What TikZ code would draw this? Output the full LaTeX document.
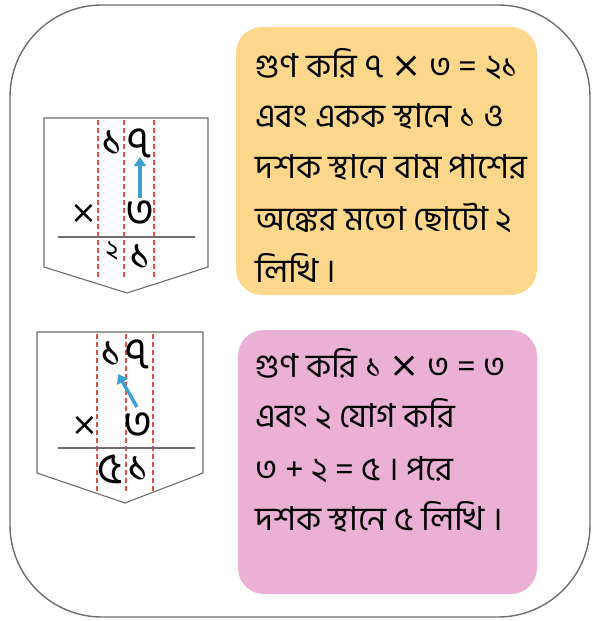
\documentclass[tikz,border=0pt]{standalone}
\usepackage{fontspec}
\newfontfamily\bn[Script=Bengali]{Hind Siliguri}
\newfontfamily\bnw[Script=Bengali,FakeStretch=1.02]{Hind Siliguri}
\newfontfamily\symfont{DejaVu Sans}
\newcommand{\tms}{{\symfont\fontsize{36}{36}\selectfont ×}}
\usetikzlibrary{arrows.meta}
\definecolor{boxyellow}{RGB}{253,216,140}
\definecolor{boxpink}{RGB}{234,176,214}
\definecolor{framegray}{RGB}{110,110,110}
\definecolor{guidered}{RGB}{232,80,70}
\definecolor{arrowblue}{RGB}{60,160,215}
\tikzset{
  outer/.style={draw=framegray, line width=1.4pt, rounded corners=92pt},
  card/.style={rounded corners=26pt},
  penta/.style={draw=framegray, line width=1.1pt, fill=white},
  rule/.style={draw=framegray, line width=1.1pt},
  guide/.style={draw=guidered, line width=1.6pt, dash pattern=on 5pt off 3pt},
  digit/.style={font=\bn\fontsize{44}{44}\selectfont, inner sep=0pt},
  xsign/.style={font=\symfont\fontsize{32}{32}\selectfont, inner sep=0pt},
  small digit/.style={font=\bn\fontsize{26}{26}\selectfont, inner sep=0pt},
  txt/.style={font=\bnw\fontsize{33}{40}\selectfont, anchor=base west, inner sep=0pt},
  mover/.style={draw=arrowblue, line width=3.4pt, -{Triangle[length=9pt,width=12pt]}},
}
\begin{document}
\begin{tikzpicture}[x=1pt,y=-1pt]
\useasboundingbox (0,0) rectangle (592,621);
\draw[outer] (10,5) rectangle (590,617);
% cards
\fill[boxyellow, card] (236,27) rectangle (537,295);
\fill[boxpink, card] (238,330) rectangle (537,594);
% first pentagon
\draw[penta] (44,118) -- (208,118) -- (208,267) -- (127,293) -- (44,267) -- cycle;
\draw[guide] (98,120) -- (98,278);
\draw[guide] (124,120) -- (124,278);
\draw[guide] (154,120) -- (154,278);
\draw[rule] (58,237) -- (195,237);
\node[digit] (p1a) at (112,143) {১};
\node[digit] (p1b) at (140,143) {৭};
\node[xsign] (p1x) at (84,214) {×};
\node[digit] (p1c) at (140,214) {৩};
\node[small digit] (p1s) at (112,251) {২};
\node[digit] (p1d) at (140,257) {১};
\coordinate (p1from) at (140,198);
\coordinate (p1to) at (140,157);
\draw[mover] (p1from) -- (p1to);
% second pentagon
\draw[penta] (37,332) -- (203,332) -- (203,473) -- (125,503) -- (37,473) -- cycle;
\draw[guide] (97,334) -- (97,492);
\draw[guide] (126,334) -- (126,492);
\draw[guide] (153,334) -- (153,492);
\draw[rule] (58,448) -- (195,448);
\node[digit] (p2a) at (111,354) {১};
\node[digit] (p2b) at (138,354) {৭};
\node[xsign] (p2x) at (85,426) {×};
\node[digit] (p2c) at (138,426) {৩};
\node[digit] (p2e) at (110,469) {৫};
\node[digit] (p2d) at (138,469) {১};
\coordinate (p2from) at (137,407);
\coordinate (p2to) at (118,374);
\draw[mover] (p2from) -- (p2to);
% yellow text
\node[txt] (y1) at (255,77) {গুণ করি ৭ \tms{} ৩ = ২১};
\node[txt] (y2) at (255,127) {এবং একক স্থানে ১ ও};
\node[txt] (y3) at (255,178) {দশক স্থানে বাম পাশের};
\node[txt] (y4) at (255,230) {অঙ্কের মতো ছোটো ২};
\node[txt] (y5) at (255,282) {লিখি ।};
% pink text
\node[txt] (k1) at (255,377) {গুণ করি ১ \tms{} ৩ = ৩};
\node[txt] (k2) at (255,427) {এবং ২ যোগ করি};
\node[txt] (k3) at (255,480) {৩ + ২ = ৫ । পরে};
\node[txt] (k4) at (255,530) {দশক স্থানে ৫ লিখি ।};
\end{tikzpicture}
\end{document}
